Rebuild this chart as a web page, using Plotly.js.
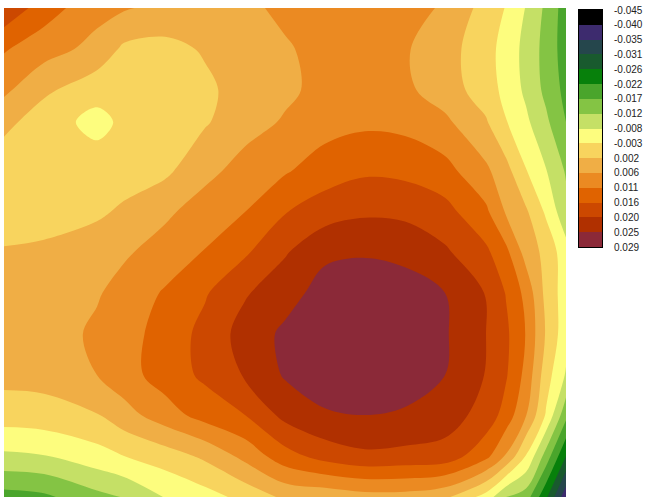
<!DOCTYPE html>
<html>
<head>
<meta charset="utf-8">
<script src="https://cdn.plot.ly/plotly-3.0.1.min.js"></script>
<style>
  html, body { margin: 0; padding: 0; background: #ffffff; }
  #chart { width: 647px; height: 497px; }
</style>
</head>
<body>
<div id="chart"></div>
<script>
// Grid coordinates of the surface (x left to right, y top to bottom)
const xGrid = [0, 40, 93, 120, 161, 201, 241, 281, 321, 361, 401, 441, 482, 502, 522, 542, 562];
const yGrid = [0, 41, 82, 114, 163, 204, 244, 285, 326, 367, 407, 448, 489];

// Surface values, one row per yGrid entry
const zRow0  = [0.01882, 0.01281, 0.00726, 0.00634, 0.00449, 0.00403, 0.00495, 0.0068, 0.00819, 0.00819, 0.00726, 0.00541, -0.0006, -0.00361, -0.00823, -0.01355, -0.01956];
const zRow1  = [0.01096, 0.00773, 0.00449, 0.00033, -0.00013, 0.00171, 0.00356, 0.00541, 0.00726, 0.00773, 0.00634, 0.0031, -0.00153, -0.00523, -0.00939, -0.01424, -0.01956];
const zRow2  = [0.0068, 0.00218, -0.00176, -0.00153, -0.0006, 0.00033, 0.0031, 0.00495, 0.00726, 0.00773, 0.0068, 0.00356, -0.00106, -0.00476, -0.00893, -0.01378, -0.01864];
const zRow3  = [0.00264, -0.00129, -0.00476, -0.00245, -0.00083, 0.00079, 0.00403, 0.00634, 0.00865, 0.00958, 0.00911, 0.0068, 0.00171, -0.00314, -0.00708, -0.0117, -0.01725];
const zRow4  = [-0.00199, -0.00199, -0.00106, -0.0006, 0.00033, 0.00449, 0.00773, 0.01004, 0.01281, 0.01443, 0.01397, 0.01212, 0.0068, 0.00287, -0.00314, -0.00777, -0.01309];
const zRow5  = [-0.00153, -0.00083, 0.00056, 0.00194, 0.00495, 0.00819, 0.0105, 0.01489, 0.01767, 0.01906, 0.01873, 0.01674, 0.01143, 0.00541, 0.00194, -0.00407, -0.01124];
const zRow6  = [0.00171, 0.00218, 0.00356, 0.00518, 0.00796, 0.01073, 0.01443, 0.01929, 0.02345, 0.02391, 0.02299, 0.02044, 0.01605, 0.01166, 0.00403, -0.00014, -0.00615];
const zRow7  = [0.00264, 0.00333, 0.00541, 0.00773, 0.01096, 0.01466, 0.01929, 0.02253, 0.02623, 0.02715, 0.02669, 0.02438, 0.01952, 0.01489, 0.00911, -0.00014, -0.00569];
const zRow8  = [0.00264, 0.00333, 0.0068, 0.00865, 0.01235, 0.01651, 0.0216, 0.0253, 0.02761, 0.02831, 0.02715, 0.02484, 0.01975, 0.01605, 0.01027, 0.00079, -0.00615];
const zRow9  = [0.00264, 0.00287, 0.00588, 0.00865, 0.01258, 0.01605, 0.02021, 0.02484, 0.02669, 0.02715, 0.02623, 0.02438, 0.01952, 0.01559, 0.00911, -0.00129, -0.00846];
const zRow10 = [-0.00106, -0.0006, 0.00102, 0.00403, 0.00842, 0.01235, 0.01513, 0.02114, 0.02391, 0.02438, 0.02391, 0.02206, 0.0179, 0.01328, 0.00611, -0.00384, -0.01586];
const zRow11 = [-0.00893, -0.00823, -0.00523, -0.00338, -0.00106, 0.00218, 0.00726, 0.01328, 0.01698, 0.01883, 0.01836, 0.0179, 0.01189, 0.00541, -0.00361, -0.01448, -0.0265];
const zRow12 = [-0.0191, -0.01818, -0.01401, -0.01239, -0.00777, -0.00523, -0.00199, 0.00218, 0.00264, 0.00403, 0.00403, 0.00218, -0.00523, -0.01263, -0.01494, -0.02558, -0.03899];

// Contour level boundaries and their printed labels
const levelBreaks = [-0.045, -0.040375, -0.03575, -0.031125, -0.0265, -0.021875, -0.01725, -0.012625,
                     -0.008, -0.003375, 0.00125, 0.005875, 0.0105, 0.015125, 0.01975, 0.024375, 0.029];
const levelLabels = ['-0.045', '-0.040', '-0.035', '-0.031', '-0.026', '-0.022', '-0.017', '-0.012',
                     '-0.008', '-0.003', '0.002', '0.006', '0.011', '0.016', '0.020', '0.025', '0.029'];

// One fill colour per band, lowest band first
const bandColors = ['#000000', '#3d2b6e', '#25464c', '#195a2e', '#07800b', '#4aa52c', '#84c444', '#c5e066',
                    '#fdfd7e', '#f8d45e', '#f0ae45', '#eb8a22', '#e06300', '#cc4800', '#b03000', '#8b2938'];

const zGrid = [zRow0, zRow1, zRow2, zRow3, zRow4, zRow5, zRow6, zRow7, zRow8, zRow9, zRow10, zRow11, zRow12];

const nBands = bandColors.length;
const levelStart = levelBreaks[0];
const levelEnd = levelBreaks[levelBreaks.length - 1];
const levelSize = (levelEnd - levelStart) / nBands;

// Filled-contour colour scale: slot 0 is below the first level, slots 1..16 are the bands,
// the last slot is above the top level.
const slots = nBands + 1;
const contourScale = [[0, bandColors[0]]];
for (let k = 0; k < nBands; k++) contourScale.push([(k + 1) / slots, bandColors[k]]);
contourScale.push([1, bandColors[nBands - 1]]);

// Key: one cell per band
const keyScale = bandColors.map((c, i) => [i / (nBands - 1), c]);
const keyZ = bandColors.map((c, i) => [i]);

const surface = {
  type: 'contour',
  x: xGrid,
  y: yGrid,
  z: zGrid,
  autocontour: false,
  contours: { start: levelStart, end: levelEnd, size: levelSize, coloring: 'fill', showlines: false },
  line: { width: 0, smoothing: 1 },
  colorscale: contourScale,
  showscale: false,
  hoverinfo: 'skip',
  xaxis: 'x',
  yaxis: 'y'
};

const key = {
  type: 'heatmap',
  x: [0, 1],
  y: levelBreaks,
  z: keyZ,
  zmin: 0,
  zmax: nBands - 1,
  colorscale: keyScale,
  showscale: false,
  hoverinfo: 'skip',
  xaxis: 'x2',
  yaxis: 'y2'
};

const W = 647, H = 497;
const mL = 4, mR = 0, mT = 8, mB = 0;
const pw = W - mL - mR, ph = H - mT - mB;
const px = v => (v - mL) / pw;
const py = v => 1 - (v - mT) / ph;

const layout = {
  width: W,
  height: H,
  margin: { l: mL, r: mR, t: mT, b: mB, pad: 0 },
  paper_bgcolor: '#ffffff',
  plot_bgcolor: '#ffffff',
  showlegend: false,
  xaxis: { domain: [0, px(566)], range: [0, 562], visible: false, fixedrange: true },
  yaxis: { domain: [0, 1], range: [489, 0], visible: false, fixedrange: true },
  xaxis2: {
    domain: [px(579), px(602)], range: [0, 1], anchor: 'y2',
    showticklabels: false, ticks: '', showgrid: false, zeroline: false,
    showline: true, mirror: true, linecolor: '#000000', linewidth: 1, fixedrange: true
  },
  yaxis2: {
    domain: [py(247), py(10)], range: [levelEnd, levelStart], anchor: 'x2', side: 'right',
    tickmode: 'array', tickvals: levelBreaks, ticktext: levelLabels,
    ticks: 'outside', ticklen: 9, tickcolor: 'rgba(0,0,0,0)',
    tickfont: { family: 'Liberation Sans, Arial, sans-serif', size: 10, color: '#222222' },
    showgrid: false, zeroline: false,
    showline: true, mirror: true, linecolor: '#000000', linewidth: 1, fixedrange: true
  }
};

Plotly.newPlot('chart', [surface, key], layout, { staticPlot: true, displayModeBar: false });
</script>
</body>
</html>
